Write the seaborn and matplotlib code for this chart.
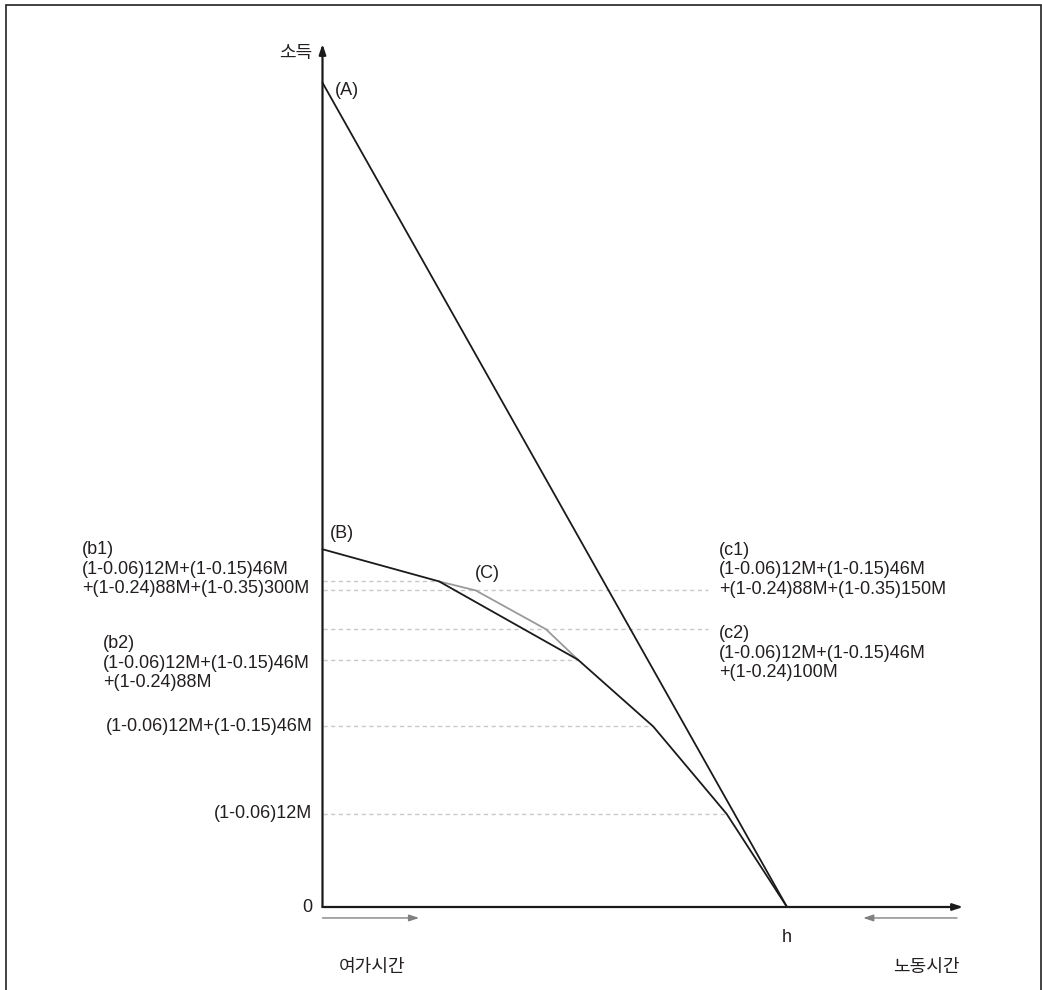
import matplotlib
matplotlib.use('Agg')
import matplotlib.pyplot as plt
from matplotlib.patches import Rectangle
import numpy as np
import pandas as pd
import seaborn as sns

sns.set_style('white')
plt.rcParams['font.family'] = ['Liberation Sans', 'Noto Sans CJK KR', 'DejaVu Sans']

# budget line without tax (A) : leisure hours vs income
a_x = [0, 10]
a_y = [100, 0]

# after-tax budget line (B), kinked at bracket limits
b_x = [0, 2.51, 5.50, 7.12, 8.70, 10]
b_y = [43.4, 39.5, 30.0, 21.9, 11.3, 0]

# alternative segment (C)
c_x = [2.51, 3.30, 4.81, 5.50]
c_y = [39.5, 38.4, 33.7, 30.0]

# dotted guide levels and how far they reach to the right
guide_y = [39.5, 38.4, 33.7, 30.0, 21.9, 11.3]
guide_end = [2.51, 8.30, 8.30, 5.50, 7.12, 8.70]

txt_b1 = '(b1)\n(1-0.06)12M+(1-0.15)46M\n+(1-0.24)88M+(1-0.35)300M'
txt_b2 = '(b2)\n(1-0.06)12M+(1-0.15)46M\n+(1-0.24)88M'
txt_c1 = '(c1)\n(1-0.06)12M+(1-0.15)46M\n+(1-0.24)88M+(1-0.35)150M'
txt_c2 = '(c2)\n(1-0.06)12M+(1-0.15)46M\n+(1-0.24)100M'
txt_lv2 = '(1-0.06)12M+(1-0.15)46M'
txt_lv1 = '(1-0.06)12M'

fig = plt.figure(figsize=(10.42, 9.9), dpi=100)
ax = fig.add_axes([0, 0, 1, 1])
ax.set_xlim(-322.5 / 46.45, (1042 - 322.5) / 46.45)
ax.set_ylim(-(990 - 907) / 8.243, 907 / 8.243)
ax.axis('off')

tc = '#231f20'
fs = 13

# guides
for gy, ge in zip(guide_y, guide_end):
    ax.plot([0, ge], [gy, gy], color='#c8c8c8', lw=1, ls=(0, (3, 2.5)), zorder=1)

# lines
sns.lineplot(x=c_x, y=c_y, sort=False, estimator=None, color='#9a9a9a', lw=1.3, ax=ax, zorder=2)
sns.lineplot(x=a_x, y=a_y, sort=False, estimator=None, color='#1a1a1a', lw=1.3, ax=ax, zorder=3)
sns.lineplot(x=b_x, y=b_y, sort=False, estimator=None, color='#1a1a1a', lw=1.3, ax=ax, zorder=3)

# axes with arrows
ax.annotate('', xy=(13.79, 0), xytext=(0, 0),
            arrowprops=dict(arrowstyle='-|>,head_length=0.6,head_width=0.2', color='#1a1a1a', lw=1.6,
                            shrinkA=0, shrinkB=0))
ax.annotate('', xy=(0, 104.7), xytext=(0, 0),
            arrowprops=dict(arrowstyle='-|>,head_length=0.6,head_width=0.2', color='#1a1a1a', lw=1.6,
                            shrinkA=0, shrinkB=0))

# direction arrows
ax.annotate('', xy=(2.08, -1.33), xytext=(0, -1.33),
            arrowprops=dict(arrowstyle='-|>,head_length=0.6,head_width=0.2', color='#808080', lw=1,
                            shrinkA=0, shrinkB=0))
ax.annotate('', xy=(11.64, -1.33), xytext=(13.66, -1.33),
            arrowprops=dict(arrowstyle='-|>,head_length=0.6,head_width=0.2', color='#808080', lw=1,
                            shrinkA=0, shrinkB=0))

# labels
ax.text(-0.22, 103.6, '소득', ha='right', va='center', fontsize=fs, color=tc)
ax.text(-0.22, 0, '0', ha='right', va='center', fontsize=fs, color=tc)
ax.text(10, -3.76, 'h', ha='center', va='center', fontsize=fs, color=tc)
ax.text(1.07, -7.28, '여가시간', ha='center', va='center', fontsize=fs, color=tc)
ax.text(13.0, -7.28, '노동시간', ha='center', va='center', fontsize=fs, color=tc)
ax.text(0.27, 99.1, '(A)', ha='left', va='center', fontsize=fs, color=tc)
ax.text(0.16, 45.3, '(B)', ha='left', va='center', fontsize=fs, color=tc)
ax.text(3.28, 40.5, '(C)', ha='left', va='center', fontsize=fs, color=tc)

ax.text(-5.18, 41.0, txt_b1, ha='left', va='center', fontsize=fs, color=tc, linespacing=1.2)
ax.text(-4.73, 29.6, txt_b2, ha='left', va='center', fontsize=fs, color=tc, linespacing=1.2)
ax.text(8.54, 40.9, txt_c1, ha='left', va='center', fontsize=fs, color=tc, linespacing=1.2)
ax.text(8.54, 30.8, txt_c2, ha='left', va='center', fontsize=fs, color=tc, linespacing=1.2)
ax.text(-0.22, 21.9, txt_lv2, ha='right', va='center', fontsize=fs, color=tc)
ax.text(-0.22, 11.3, txt_lv1, ha='right', va='center', fontsize=fs, color=tc)

# outer frame
fig.patches.append(Rectangle((6 / 1042, -0.01), (1041 - 6) / 1042, 1 - 5 / 990 + 0.01,
                             transform=fig.transFigure, fill=False, edgecolor='#222222', lw=1.2))

fig.savefig('out.png', dpi=100)
